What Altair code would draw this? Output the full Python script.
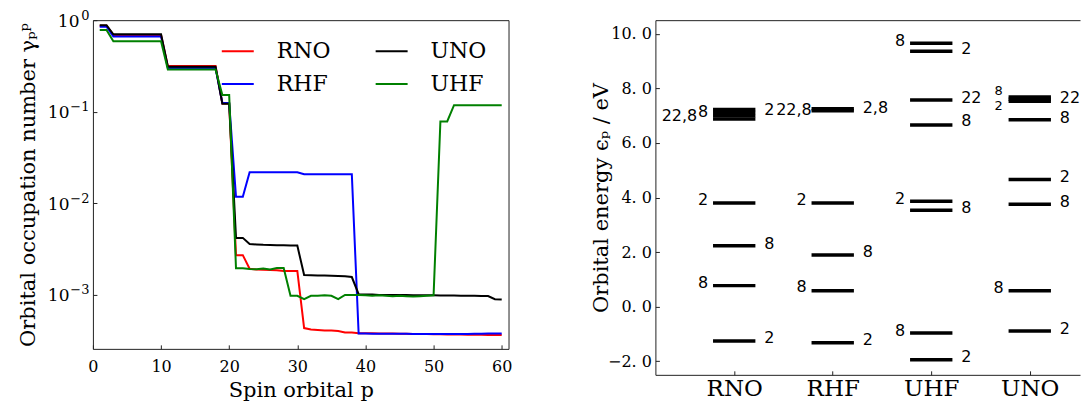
import altair as alt
import pandas as pd

# ---------------- left panel: occupation numbers ----------------
orbital = list(range(1, 61))

occ_rno = [0.87, 0.87,
           0.69, 0.69, 0.69, 0.69, 0.69, 0.69, 0.69, 0.69,
           0.315, 0.315, 0.315, 0.315, 0.315, 0.315, 0.315, 0.315,
           0.123, 0.123,
           0.00272, 0.00272, 0.00193, 0.0019, 0.00188, 0.00187, 0.00186, 0.00183, 0.00183, 0.00183,
           0.000435, 0.00042, 0.000415, 0.00041, 0.00041, 0.000405, 0.00039, 0.00039, 0.000383, 0.000382,
           0.000381, 0.00038, 0.00038, 0.000379, 0.000378, 0.000377, 0.000376, 0.000375, 0.000374, 0.000373,
           0.000372, 0.000371, 0.00037, 0.00037, 0.000369, 0.000368, 0.000367, 0.000366, 0.000365, 0.000365]

occ_rhf = [0.85, 0.85,
           0.665, 0.665, 0.665, 0.665, 0.665, 0.665, 0.665, 0.665,
           0.30, 0.30, 0.30, 0.30, 0.30, 0.30, 0.30, 0.30,
           0.125, 0.125,
           0.0118, 0.0118, 0.0219, 0.0219, 0.0219, 0.0219, 0.0219, 0.0219, 0.0219, 0.0219,
           0.0208, 0.0208, 0.0208, 0.0208, 0.0208, 0.0208, 0.0208, 0.0208, 0.000379, 0.000379,
           0.000378, 0.000378, 0.000378, 0.000377, 0.000377, 0.000377, 0.000376, 0.000376, 0.000376, 0.000375,
           0.000375, 0.000375, 0.000375, 0.000376, 0.000376, 0.000377, 0.000378, 0.000379, 0.000379, 0.00038]

occ_uno = [0.88, 0.88,
           0.70, 0.70, 0.70, 0.70, 0.70, 0.70, 0.70, 0.70,
           0.31, 0.31, 0.31, 0.31, 0.31, 0.31, 0.31, 0.31,
           0.122, 0.122,
           0.0042, 0.0042, 0.0036, 0.00356, 0.00353, 0.00352, 0.0035, 0.00349, 0.00347, 0.00346,
           0.00165, 0.00164, 0.00163, 0.00163, 0.00162, 0.00161, 0.0016, 0.00157, 0.00102, 0.00101,
           0.00101, 0.001, 0.001, 0.001, 0.001, 0.000998, 0.000996, 0.000994, 0.000992, 0.00099,
           0.000988, 0.000986, 0.000984, 0.000982, 0.00098, 0.000978, 0.000975, 0.000972, 0.0009, 0.000895]

occ_uhf = [0.78, 0.78,
           0.59, 0.59, 0.59, 0.59, 0.59, 0.59, 0.59, 0.59,
           0.29, 0.29, 0.29, 0.29, 0.29, 0.29, 0.29, 0.29,
           0.152, 0.152,
           0.00196, 0.00196, 0.00192, 0.00191, 0.00194, 0.0019, 0.00197, 0.00197, 0.00098, 0.00098,
           0.0009, 0.00098, 0.00098, 0.00099, 0.00098, 0.0009, 0.001, 0.001, 0.001, 0.00099,
           0.00098, 0.00099, 0.00098, 0.00097, 0.00098, 0.00097, 0.00096, 0.00097, 0.00098, 0.00099,
           0.0785, 0.0785, 0.118, 0.118, 0.118, 0.118, 0.118, 0.118, 0.118, 0.118]

series_order = ["RNO", "RHF", "UNO", "UHF"]          # drawing order and legend order
series_colors = ["#ff0000", "#0000ff", "#000000", "#008000"]
occ_ticks = [0.001, 0.01, 0.1, 1.0]
orbital_ticks = [0, 10, 20, 30, 40, 50, 60]

# ---------------- right panel: orbital energies ----------------
methods = ["RNO", "RHF", "UHF", "UNO"]
levels_rno = [7.23, 7.12, 7.00, 6.88, 3.80, 2.23, 0.77, -1.26]
levels_rhf = [7.25, 7.18, 3.80, 1.89, 0.58, -1.32]
levels_uhf = [9.65, 9.36, 7.57, 6.66, 3.86, 3.53, -0.97, -1.95]
levels_uno = [7.68, 7.60, 7.53, 6.85, 4.66, 3.75, 0.58, -0.89]

# (text, side, energy at which the label sits)
labels_rno = [("22,8", "far", 7.00), ("8", "left", 7.12), ("2", "right", 7.21),
              ("2", "left", 3.89), ("8", "right", 2.31), ("8", "left", 0.88), ("2", "right", -1.15)]
labels_rhf = [("22,8", "near", 7.21), ("2,8", "right", 7.28), ("2", "left", 3.89),
              ("8", "right", 1.99), ("8", "left", 0.73), ("2", "right", -1.22)]
labels_uhf = [("8", "left", 9.73), ("2", "right", 9.45), ("22", "right", 7.66), ("8", "right", 6.79),
              ("2", "left", 3.94), ("8", "right", 3.63), ("8", "left", -0.89), ("2", "right", -1.85)]
labels_uno = [("8", "stack", 7.90), ("2", "stack", 7.34), ("22", "right", 7.66), ("8", "right", 6.93),
              ("2", "right", 4.74), ("8", "right", 3.83), ("8", "left", 0.67), ("2", "right", -0.81)]
energy_ticks = [-2, 0, 2, 4, 6, 8, 10]

# ---------------- tables ----------------
occ_rows = []
for name, vals in zip(series_order, [occ_rno, occ_rhf, occ_uno, occ_uhf]):
    for p, v in zip(orbital, vals):
        occ_rows.append({"method": name, "p": p, "occ": v})
occ_df = pd.DataFrame(occ_rows)

level_rows, label_rows = [], []
for i, (m, lv, lb) in enumerate(zip(methods,
                                    [levels_rno, levels_rhf, levels_uhf, levels_uno],
                                    [labels_rno, labels_rhf, labels_uhf, labels_uno])):
    for e in lv:
        level_rows.append({"method": m, "pos": i, "energy": e})
    for t, s, e in lb:
        label_rows.append({"method": m, "pos": i, "text": t, "side": s, "energy": e})
level_df = pd.DataFrame(level_rows)
label_df = pd.DataFrame(label_rows)

# ---------------- styling ----------------
W1, H1 = 416, 329
W2, H2 = 425, 355
FRAME = "#222222"
SERIF = "DejaVu Serif"
SANS = "DejaVu Sans"

# ---------------- left chart ----------------
xs1 = alt.Scale(domain=[0, 61], nice=False, zero=False)
ys1 = alt.Scale(type="log", domain=[0.000258, 1.0], nice=False)

lines = alt.Chart(occ_df).mark_line(strokeWidth=2).encode(
    x=alt.X("p:Q", scale=xs1, axis=alt.Axis(
        values=orbital_ticks, format="d", title="Spin orbital p", ticks=False, domain=False,
        labelFontSize=16, labelPadding=10, labelFlush=False, labelOverlap=False,
        minExtent=26, maxExtent=26, titlePadding=22, titleBaseline="alphabetic",
        titleFontSize=21)),
    y=alt.Y("occ:Q", scale=ys1, axis=alt.Axis(
        values=occ_ticks, labelExpr="'10'", labelFontSize=17,
        labelPadding={"condition": {"test": "datum.value >= 1", "value": 14}, "value": 24},
        labelOffset=1, labelFlush=False, labelOverlap=False, ticks=False, domain=False,
        minExtent=50, maxExtent=50, title="Orbital occupation number γₚᵖ",
        titlePadding=4, titleFontSize=21)),
    color=alt.Color("method:N",
                    scale=alt.Scale(domain=series_order, range=series_colors),
                    legend=alt.Legend(title=None, orient="none", legendX=128, legendY=14,
                                      columns=2, symbolType="stroke", symbolSize=1024,
                                      symbolStrokeWidth=2, labelFont=SERIF, labelFontSize=22,
                                      labelColor="black", labelOffset=22, columnPadding=41,
                                      rowPadding=5, padding=0)),
)

expo = alt.Chart(occ_df).mark_line(strokeOpacity=0).encode(
    x=alt.X("p:Q", scale=xs1, axis=alt.Axis(
        orient="top", offset=-H1, values=orbital_ticks, labels=False, domain=False,
        ticks=True, tickSize=4, title=None)),
    y=alt.Y("occ:Q", scale=ys1, axis=alt.Axis(
        orient="left", values=occ_ticks,
        labelExpr="replace(toString(round(log(datum.value) / LN10)), '-', '\u2212')",
        labelFontSize=13, labelPadding=4, labelOffset=-5, labelFlush=False, labelOverlap=False,
        ticks=False, domain=False, title=None)),
)

yticks1 = alt.Chart(occ_df).mark_line(strokeOpacity=0).encode(
    x=alt.X("p:Q", scale=xs1, axis=None),
    y=alt.Y("occ:Q", scale=ys1, axis=alt.Axis(
        orient="right", offset=-W1, values=occ_ticks, labels=False, domain=False,
        ticks=True, tickSize=4, title=None)),
)

left = alt.layer(lines, expo, yticks1).resolve_axis(
    x="independent", y="independent").properties(width=W1, height=H1)

# ---------------- right chart ----------------
xs2 = alt.Scale(domain=[-0.8, 3.51], nice=False, zero=False)
ys2 = alt.Scale(domain=[-2.5, 10.5], nice=False, zero=False)
names_expr = "[" + ",".join("'%s'" % m for m in methods) + "][datum.value]"

rules = alt.Chart(level_df).transform_calculate(
    lo="datum.pos - 0.215", hi="datum.pos + 0.215"
).mark_rule(strokeWidth=3.5, color="black", strokeCap="butt").encode(
    x=alt.X("lo:Q", scale=xs2, axis=alt.Axis(
        values=[0, 1, 2, 3], labelExpr=names_expr, labelFontSize=23, labelPadding=3,
        labelFlush=False, labelOverlap=False, ticks=False, domain=True,
        domainColor=FRAME, title=None)),
    x2="hi:Q",
    y=alt.Y("energy:Q", scale=ys2, axis=alt.Axis(
        values=energy_ticks, labelExpr="replace(format(datum.value, '.1f'), '.', '. ')",
        labelFontSize=16, labelPadding=4, labelFlush=False, labelOverlap=False,
        ticks=False, domain=True, domainColor=FRAME, minExtent=44, maxExtent=44,
        title="Orbital energy ϵₚ / eV", titlePadding=0, titleFontSize=21)),
)


def text_layer(side, align, dx, size=16):
    return alt.Chart(label_df).transform_filter("datum.side == '%s'" % side).mark_text(
        align=align, baseline="middle", dx=dx, font=SANS, fontSize=size, color="black",
        clip=True)


lab_left = text_layer("left", "right", -26).encode(
    x=alt.X("pos:Q", scale=xs2, axis=alt.Axis(
        orient="top", offset=-H2, values=[0, 1, 2, 3], labels=False, domain=False,
        ticks=True, tickSize=4, title=None)),
    y=alt.Y("energy:Q", scale=ys2, axis=alt.Axis(
        orient="right", offset=-W2, values=energy_ticks, labels=False, domain=False,
        ticks=True, tickSize=4, title=None)),
    text="text:N",
)

lab_right = text_layer("right", "left", 30).encode(
    x=alt.X("pos:Q", scale=xs2, axis=alt.Axis(
        orient="top", values=[0, 1, 2, 3], labels=False, domain=True, domainColor=FRAME,
        ticks=False, title=None)),
    y=alt.Y("energy:Q", scale=ys2, axis=None),
    text="text:N",
)

other_layers = []
for side, align, dx, size in [("far", "right", -37, 16), ("near", "right", -21, 16),
                              ("stack", "right", -27, 13)]:
    other_layers.append(text_layer(side, align, dx, size).encode(
        x=alt.X("pos:Q", scale=xs2, axis=None),
        y=alt.Y("energy:Q", scale=ys2, axis=None),
        text="text:N",
    ))

right = alt.layer(rules, lab_left, lab_right, *other_layers).resolve_axis(
    x="independent", y="independent"
).properties(width=W2, height=H2, view=alt.ViewBackground(stroke="transparent"))

chart = alt.hconcat(left, right, spacing=147, bounds="flush").resolve_scale(
    color="independent", x="independent", y="independent"
).resolve_legend(color="independent").properties(
    padding={"left": 17, "top": 8, "right": 0, "bottom": 0}
).configure_view(stroke=FRAME, strokeWidth=1).configure_axis(
    grid=False, labelFont=SERIF, titleFont=SERIF, labelColor="black", titleColor="black",
    titleFontWeight="normal", tickColor=FRAME, domainColor=FRAME
)

chart.save("out.html", embed_options={"renderer": "svg", "actions": False})
